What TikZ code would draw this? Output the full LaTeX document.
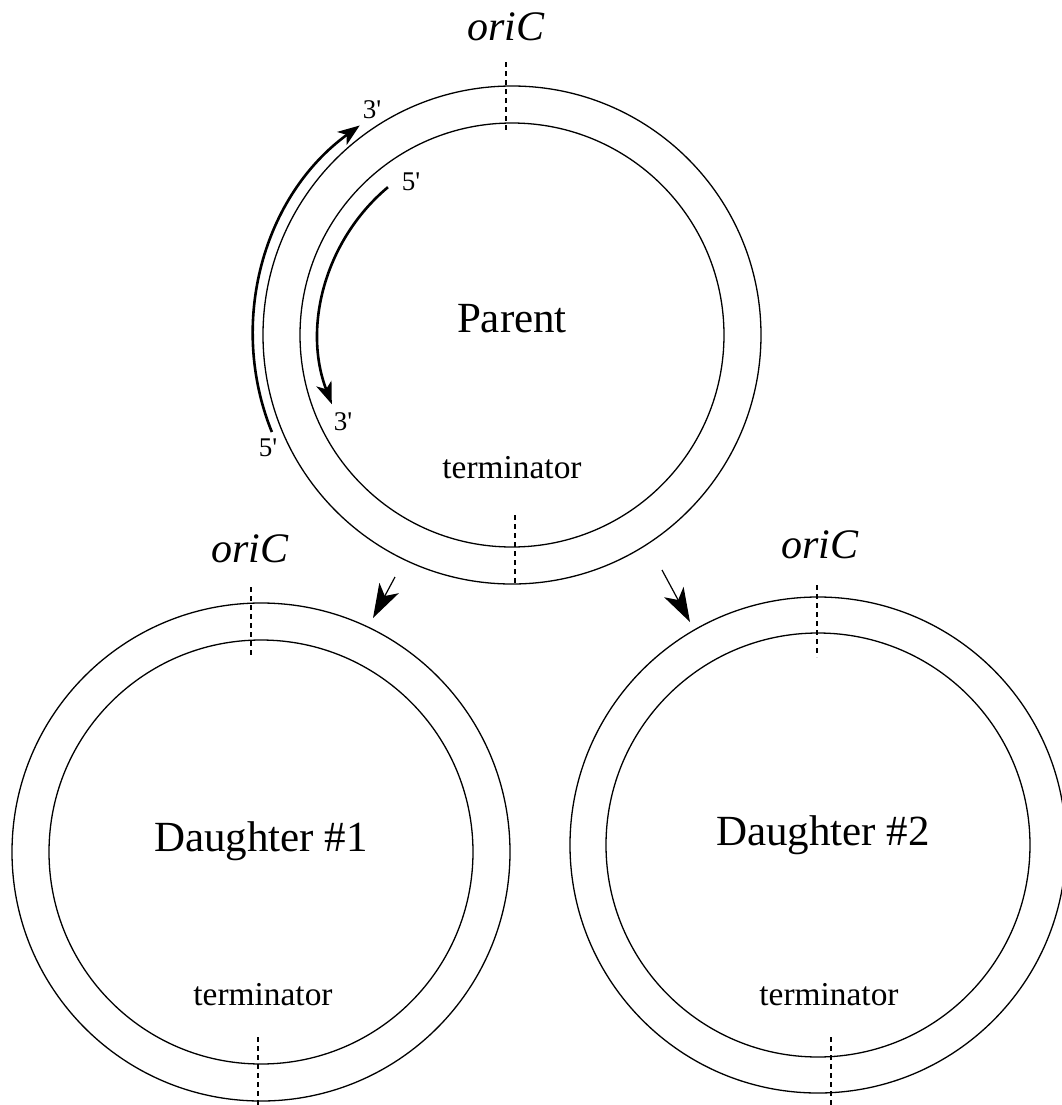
\documentclass[tikz,border=0pt]{standalone}
\usepackage{fontspec}
\setmainfont{Liberation Serif}
\usetikzlibrary{positioning,arrows.meta,calc}

\begin{document}
\begin{tikzpicture}[
		x=0.5pt,y=-0.5pt,
		every node/.style={inner sep=0pt,anchor=base},
		ring/.style={line width=0.65pt},
		marker/.style={line width=0.8pt,dash pattern=on 2.5pt off 2pt},
		strand/.style={line width=1.3pt,-{Stealth[length=11pt,width=8pt,inset=3pt]}},
		split/.style={line width=0.6pt,-{Stealth[length=17pt,width=11pt,inset=4.5pt]}},
		title/.style={font=\fontsize{21.5}{24}\selectfont},
		site/.style={font=\fontsize{21}{24}\selectfont\itshape},
		term/.style={font=\fontsize{16.7}{19}\selectfont},
		prime/.style={font=\fontsize{13.5}{15}\selectfont,anchor=center},
	]
	\useasboundingbox (0,0) rectangle (1062,1105);

	% ring centres
	\coordinate (parent) at (512,335);
	\coordinate (daughter1) at (261,852);
	\coordinate (daughter2) at (818,845);

	% parent
	\draw[ring] (parent) circle[radius=249];
	\draw[ring] (parent) circle[radius=212];
	\coordinate (pori) at (506,62);
	\coordinate (pterm) at (515,515);
	\draw[marker] (pori) -- ++(0,71);
	\draw[marker] (pterm) -- ++(0,70);
	\node[site] (porilabel) at (506,40) {oriC};
	\node[title] (ptitle) at (512,332) {Parent};
	\node[term] (ptermlabel) at (512,478) {terminator};

	% daughter #1
	\draw[ring] (daughter1) circle[radius=249];
	\draw[ring] (daughter1) circle[radius=212];
	\coordinate (dori1) at (251,587);
	\coordinate (dterm1) at (258,1037);
	\draw[marker] (dori1) -- ++(0,71);
	\draw[marker] (dterm1) -- ++(0,70);
	\node[site] (dorilabel1) at (250,562) {oriC};
	\node[title] (dtitle1) at (261,851) {Daughter \#1};
	\node[term] (dtermlabel1) at (263,1005) {terminator};

	% daughter #2
	\draw[ring] (daughter2) circle[radius=248];
	\draw[ring] (daughter2) circle[radius=212];
	\coordinate (dori2) at (817,585);
	\coordinate (dterm2) at (831,1037);
	\draw[marker] (dori2) -- ++(0,72);
	\draw[marker] (dterm2) -- ++(0,70);
	\node[site] (dorilabel2) at (820,558) {oriC};
	\node[title] (dtitle2) at (823,845) {Daughter \#2};
	\node[term] (dtermlabel2) at (829,1005) {terminator};

	% replication strands (angles mirrored, y runs down)
	\draw[strand] ($(parent)+(158:259)$) arc[start angle=158,end angle=234,radius=259];
	\draw[strand] ($(parent)+(230:193)$) arc[start angle=230,end angle=159,radius=193];
	\node[prime] (lead3) at (372,110) {3\textquotesingle};
	\node[prime] (lead5) at (268,448) {5\textquotesingle};
	\node[prime] (lag5) at (411,182) {5\textquotesingle};
	\node[prime] (lag3) at (343,422) {3\textquotesingle};

	% parent splits into two daughters
	\coordinate (tail1) at (395,577);
	\coordinate (tip1) at (373,618);
	\coordinate (tail2) at (662,570);
	\coordinate (tip2) at (690,622);
	\draw[split] (tail1) -- (tip1);
	\draw[split] (tail2) -- (tip2);
\end{tikzpicture}
\end{document}
